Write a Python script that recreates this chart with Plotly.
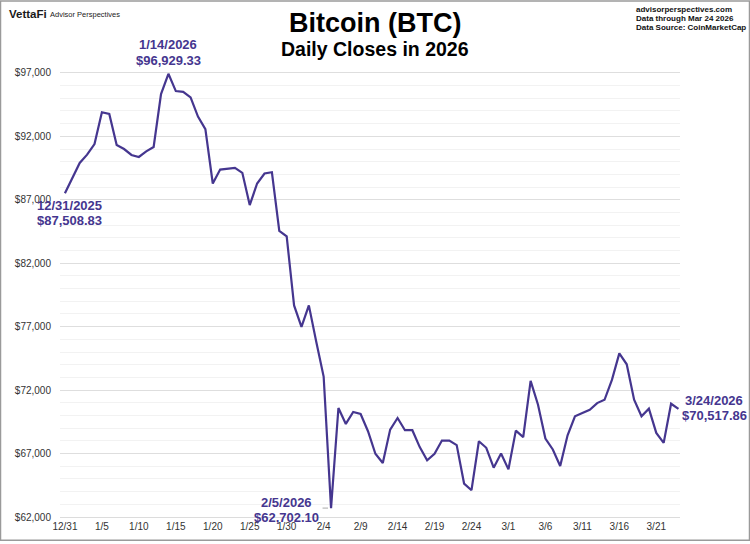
import pandas as pd
import plotly.graph_objects as go

# ---- data ----
start_date = "2025-12-31"
end_date = "2026-03-24"
btc_close = [
    87508.83, 88730, 89905, 90555, 91393, 93899, 93766, 91315, 91000, 90530,
    90375, 90814, 91158, 95332, 96929.33, 95567, 95500, 95070, 93555, 92567,
    88284, 89380, 89458, 89510, 89122, 86585, 88284, 89067, 89170, 84549,
    84110, 78676, 76984, 78676, 75810, 73069, 62702.10, 70587, 69334, 70274,
    70117, 68760, 66985, 66256, 68888, 69803, 68840, 68840, 67508, 66468,
    66985, 68025, 68025, 67665, 64634, 64111, 67972, 67455, 65889, 67010,
    65755, 68810, 68290, 72724, 70845, 68183, 67321, 66020, 68444, 69934,
    70195, 70456, 70978, 71239, 72806, 74894, 74033, 71239, 69934, 70534,
    68627, 67845, 70925, 70517.86,
]
x_tick_dates = ["2025-12-31", "2026-01-05", "2026-01-10", "2026-01-15", "2026-01-20",
                "2026-01-25", "2026-01-30", "2026-02-04", "2026-02-09", "2026-02-14",
                "2026-02-19", "2026-02-24", "2026-03-01", "2026-03-06", "2026-03-11",
                "2026-03-16", "2026-03-21"]
x_tick_labels = ["12/31", "1/5", "1/10", "1/15", "1/20", "1/25", "1/30", "2/4", "2/9",
                 "2/14", "2/19", "2/24", "3/1", "3/6", "3/11", "3/16", "3/21"]
y_tick_vals = [62000, 67000, 72000, 77000, 82000, 87000, 92000, 97000]
y_tick_labels = ["$62,000", "$67,000", "$72,000", "$77,000", "$82,000", "$87,000",
                 "$92,000", "$97,000"]
# labelled points: (index into data, date text, value text)
callouts = [
    (14, "1/14/2026", "$96,929.33"),
    (0, "12/31/2025", "$87,508.83"),
    (36, "2/5/2026", "$62,702.10"),
    (83, "3/24/2026", "$70,517.86"),
]

dates = pd.date_range(start_date, end_date, freq="D")

# ---- layout geometry ----
W, H = 750, 544
L, R, T, B = 60, 70, 64, 24
PW, PH = W - L - R, H - T - B


def px(x):
    return (x - L) / PW


def py(y):
    return (H - B - y) / PH


PURPLE = "#45368f"
FONT = "Arial, Liberation Sans, sans-serif"

fig = go.Figure()
fig.add_trace(go.Scatter(
    x=dates, y=btc_close, mode="lines",
    line=dict(color=PURPLE, width=2.2),
    hoverinfo="skip", showlegend=False,
))

ann_font = dict(family=FONT, size=13, color=PURPLE)
# pixel offsets (x shift, line-1 y shift, line-2 y shift) for each callout
offsets = {14: (0, 29, 13), 0: (5, -12, -27), 36: (-45, 6, -9), 83: (36, 8, -7)}
annotations = []
for idx, line1, line2 in callouts:
    dx, dy1, dy2 = offsets[idx]
    for txt, dy in ((line1, dy1), (line2, dy2)):
        annotations.append(dict(
            x=dates[idx], y=btc_close[idx], xref="x", yref="y",
            text=f"<b>{txt}</b>", showarrow=False,
            xanchor="center", yanchor="middle", xshift=dx, yshift=dy,
            font=ann_font,
        ))
# small leader line for the 2/5 low
annotations.append(dict(
    x=dates[36], y=btc_close[36], xref="x", yref="y", text="",
    showarrow=True, arrowhead=0, arrowcolor="#aaaaaa", arrowwidth=1,
    ax=-10, ay=0, standoff=3,
))

annotations += [
    # titles
    dict(x=px(375), y=py(23), xref="paper", yref="paper", text="<b>Bitcoin (BTC)</b>",
         showarrow=False, xanchor="center", yanchor="middle",
         font=dict(family=FONT, size=27, color="black")),
    dict(x=px(375), y=py(49), xref="paper", yref="paper", text="<b>Daily Closes in 2026</b>",
         showarrow=False, xanchor="center", yanchor="middle",
         font=dict(family=FONT, size=19.5, color="black")),
    # header
    dict(x=px(7), y=py(14), xref="paper", yref="paper", text="<b>VettaFi</b>",
         showarrow=False, xanchor="left", yanchor="middle",
         font=dict(family=FONT, size=11.5, color="#1a1a1a")),
    dict(x=px(48), y=py(14.5), xref="paper", yref="paper", text="Advisor Perspectives",
         showarrow=False, xanchor="left", yanchor="middle",
         font=dict(family=FONT, size=7.5, color="#222222")),
    dict(x=px(634), y=py(9), xref="paper", yref="paper", text="<b>advisorperspectives.com</b>",
         showarrow=False, xanchor="left", yanchor="middle",
         font=dict(family=FONT, size=8, color="#111111")),
    dict(x=px(634), y=py(18), xref="paper", yref="paper", text="<b>Data through Mar 24 2026</b>",
         showarrow=False, xanchor="left", yanchor="middle",
         font=dict(family=FONT, size=8, color="#111111")),
    dict(x=px(634), y=py(27), xref="paper", yref="paper", text="<b>Data Source: CoinMarketCap</b>",
         showarrow=False, xanchor="left", yanchor="middle",
         font=dict(family=FONT, size=8, color="#111111")),
]

fig.update_layout(
    width=W, height=H,
    margin=dict(l=L, r=R, t=T, b=B),
    paper_bgcolor="white", plot_bgcolor="white",
    font=dict(family=FONT, size=10, color="#333333"),
    annotations=annotations,
    shapes=[dict(type="rect", xref="paper", yref="paper",
                 x0=px(0.5), x1=px(W - 0.5), y0=py(H - 0.5), y1=py(0.5),
                 line=dict(color="#9a9a9a", width=1.5), fillcolor="rgba(0,0,0,0)")],
)

fig.update_xaxes(
    type="date",
    range=["2025-12-30 08:00", "2026-03-24 05:00"],
    tickvals=x_tick_dates, ticktext=x_tick_labels,
    showgrid=False, showline=True, linecolor="#dcdcdc", linewidth=1,
    ticks="", tickfont=dict(size=10, color="#333333"),
    zeroline=False,
)
fig.update_yaxes(
    range=[62000, 97700],
    tickvals=y_tick_vals, ticktext=y_tick_labels,
    showgrid=True, gridcolor="#dedede", gridwidth=1,
    minor=dict(dtick=1000, tick0=62000, showgrid=True, gridcolor="#f2f2f2", gridwidth=1),
    ticks="", ticklabelstandoff=8, tickfont=dict(size=10, color="#333333"),
    zeroline=False, showline=False,
)

fig.write_html("out.html")
